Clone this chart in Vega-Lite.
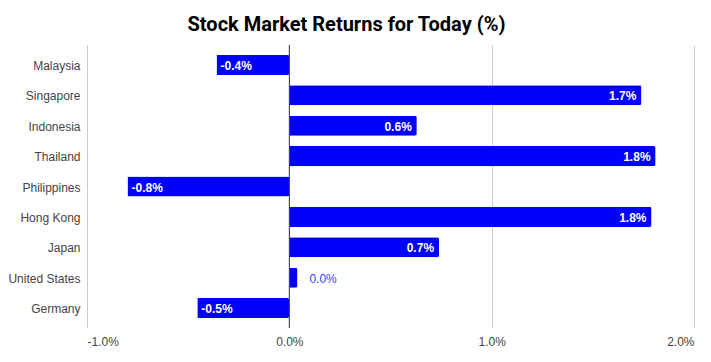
{
  "$schema": "https://vega.github.io/schema/vega-lite/v6.json",
  "width": 607,
  "height": 283,
  "autosize": {"type": "none"},
  "padding": {"left": 87, "top": 45, "right": 17, "bottom": 34},
  "background": "white",
  "title": {
    "text": "Stock Market Returns for Today (%)",
    "font": "Roboto",
    "fontSize": 20,
    "fontWeight": "bold",
    "color": "#000000",
    "anchor": "middle",
    "dx": -44,
    "offset": 10
  },
  "config": {
    "view": {"stroke": null},
    "locale": {"number": {"decimal": ".", "thousands": ",", "grouping": [3], "currency": ["$", ""], "minus": "-"}}
  },
  "data": {
    "values": [
      {"country": "Malaysia", "ret": -0.0036},
      {"country": "Singapore", "ret": 0.0174},
      {"country": "Indonesia", "ret": 0.0063},
      {"country": "Thailand", "ret": 0.0181},
      {"country": "Philippines", "ret": -0.0080},
      {"country": "Hong Kong", "ret": 0.0179},
      {"country": "Japan", "ret": 0.0074},
      {"country": "United States", "ret": 0.0004},
      {"country": "Germany", "ret": -0.00455}
    ]
  },
  "encoding": {
    "y": {
      "field": "country",
      "type": "nominal",
      "sort": null,
      "scale": {"paddingInner": 0.34, "paddingOuter": 0.325},
      "axis": {
        "title": null,
        "ticks": false,
        "domain": false,
        "labelFont": "Liberation Sans",
        "labelFontSize": 12,
        "labelColor": "#444444",
        "labelPadding": 7,
        "labelOffset": 1
      }
    },
    "x": {
      "field": "ret",
      "type": "quantitative",
      "scale": {"domain": [-0.01, 0.02], "nice": false},
      "axis": {
        "title": null,
        "format": ".1%",
        "values": [-0.01, 0, 0.01, 0.02],
        "ticks": false,
        "domain": false,
        "grid": true,
        "gridColor": "#cccccc",
        "labelFont": "Liberation Sans",
        "labelFontSize": 12,
        "labelColor": "#444444",
        "labelPadding": 8
      }
    }
  },
  "layer": [
    {
      "mark": {"type": "bar", "color": "#0000ff", "cornerRadiusEnd": 2}
    },
    {
      "mark": {"type": "rule", "color": "#333333", "strokeWidth": 1},
      "data": {"values": [{"z": 0}]},
      "encoding": {
        "x": {"field": "z", "type": "quantitative"},
        "y": {"value": 0},
        "y2": {"value": 283}
      }
    },
    {
      "transform": [{"filter": "datum.ret >= 0.001"}],
      "mark": {"type": "text", "align": "right", "dx": -5, "dy": 1, "color": "white", "fontWeight": "bold", "font": "Liberation Sans", "fontSize": 12, "baseline": "middle"},
      "encoding": {"text": {"field": "ret", "type": "quantitative", "format": ".1%"}}
    },
    {
      "transform": [{"filter": "datum.ret <= -0.001"}],
      "mark": {"type": "text", "align": "left", "dx": 4, "dy": 1, "color": "white", "fontWeight": "bold", "font": "Liberation Sans", "fontSize": 12, "baseline": "middle"},
      "encoding": {
        "x": {"field": "ret", "type": "quantitative"},
        "text": {"field": "ret", "type": "quantitative", "format": ".1%"}
      }
    },
    {
      "transform": [{"filter": "abs(datum.ret) < 0.001"}],
      "mark": {"type": "text", "align": "left", "dx": 12, "dy": 1, "color": "#3d3dff", "font": "Liberation Sans", "fontSize": 12, "baseline": "middle"},
      "encoding": {"text": {"field": "ret", "type": "quantitative", "format": ".1%"}}
    }
  ]
}
